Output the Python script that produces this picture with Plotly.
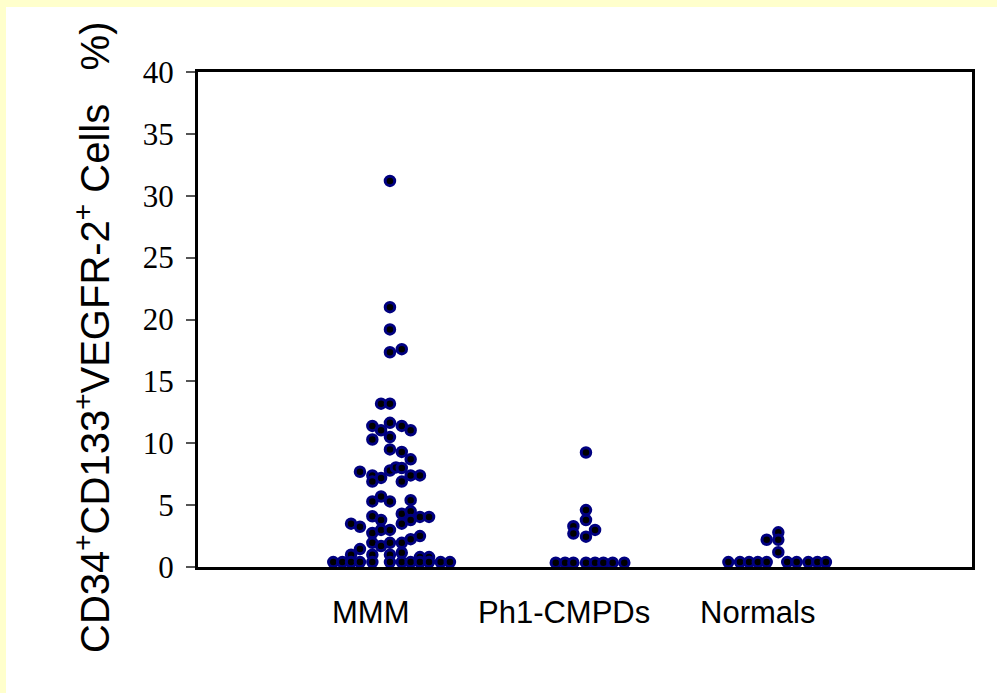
import plotly.graph_objects as go

# ---- data ----
categories = ["MMM", "Ph1-CMPDs", "Normals"]
category_pos = [1, 2, 3]

mmm_values = [31.2, 21.0, 19.2, 17.35, 17.6, 13.2, 13.2, 11.4, 11.65, 11.05, 11.4, 11.05,
              10.3, 10.5, 9.5, 9.3, 8.7, 7.7, 7.4, 7.2, 6.9, 7.8, 8.05, 8.0, 7.4, 7.4, 6.9,
              5.3, 5.7, 5.3, 5.4, 4.3, 4.5, 4.05, 4.05, 3.5, 3.8, 4.1, 3.8, 3.5, 3.25, 2.75,
              3.0, 3.0, 1.95, 1.7, 1.95, 1.95, 2.25, 2.5, 1.45, 1.0, 1.0, 1.0, 1.15, 0.8, 0.8,
              0.4, 0.4, 0.4, 0.4, 0.4, 0.4, 0.4, 0.4, 0.4, 0.4, 0.4, 0.4]
mmm_jitter = [-0.008, -0.008, -0.008, -0.008, 0.053, -0.054, -0.008, -0.099, -0.008, -0.054, 0.053, 0.099,
              -0.099, -0.008, -0.008, 0.053, 0.099, -0.163, -0.099, -0.054, -0.099, -0.008, 0.023, 0.053, 0.099, 0.147, 0.053,
              -0.099, -0.054, -0.008, 0.099, 0.053, 0.099, 0.147, 0.194, 0.053, 0.099, -0.099, -0.054, -0.209, -0.163, -0.099,
              -0.054, -0.008, -0.099, -0.054, -0.008, 0.053, 0.099, 0.147, -0.163, -0.209, -0.099, -0.008, 0.053, 0.147, 0.194,
              -0.301, -0.254, -0.209, -0.163, -0.099, -0.008, 0.053, 0.099, 0.147, 0.194, 0.254, 0.302]

ph1_values = [9.25, 4.6, 3.8, 3.3, 2.7, 3.0, 2.45, 0.35, 0.35, 0.35, 0.35, 0.35, 0.35, 0.35, 0.35]
ph1_jitter = [0.005, 0.005, 0.005, -0.060, -0.060, 0.052, 0.005,
              -0.151, -0.103, -0.060, 0.005, 0.052, 0.095, 0.143, 0.203]

norm_values = [2.8, 2.2, 2.2, 1.2, 0.4, 0.4, 0.4, 0.4, 0.4, 0.4, 0.4, 0.4, 0.4, 0.4]
norm_jitter = [-0.001, -0.001, -0.061, -0.001,
               -0.259, -0.199, -0.152, -0.107, -0.061, 0.045, 0.094, 0.154, 0.201, 0.245]

y_ticks = [0, 5, 10, 15, 20, 25, 30, 35, 40]

groups = [(mmm_values, mmm_jitter), (ph1_values, ph1_jitter), (norm_values, norm_jitter)]

fig = go.Figure()
for (vals, jit), pos, name in zip(groups, category_pos, categories):
    fig.add_trace(go.Scatter(
        x=[pos + j for j in jit], y=vals, mode="markers", name=name,
        marker=dict(size=9.5, color="black", line=dict(color="#000080", width=3)),
        showlegend=False, hoverinfo="y",
    ))

W, H = 997, 693
L, R, T, B = 198, 25, 72, 126
pw, ph = W - L - R, H - T - B

def px_x(px):
    return (px - L) / pw

def px_y(py):
    return (H - B - py) / ph

annotations = []
for pos, name in zip(category_pos, categories):
    annotations.append(dict(
        x=pos, xref="x", y=px_y(612), yref="paper", text=name, showarrow=False,
        xshift=-21, xanchor="center", yanchor="middle",
        font=dict(family="Liberation Sans, Arial", size=31, color="black"),
    ))

annotations.append(dict(
    x=px_x(92), xref="paper", y=px_y(338), yref="paper",
    text="CD34<sup>+</sup>CD133<sup>+</sup>VEGFR-2<sup>+</sup> Cells   %)",
    textangle=-90, showarrow=False, xanchor="center", yanchor="middle",
    font=dict(family="Liberation Sans, Arial", size=40, color="black"),
))

fig.update_layout(
    width=W, height=H,
    margin=dict(l=L, r=R, t=T, b=B, pad=0),
    paper_bgcolor="#FFFFCC",
    plot_bgcolor="white",
    shapes=[dict(type="rect", xref="paper", yref="paper",
                 x0=px_x(6), x1=px_x(W + 5), y0=px_y(H + 5), y1=px_y(7),
                 fillcolor="white", line=dict(width=0), layer="below")],
    annotations=annotations,
    xaxis=dict(range=[0, 4], showticklabels=False, ticks="", showgrid=False, zeroline=False,
               showline=True, linecolor="black", linewidth=3, mirror=True, fixedrange=True),
    yaxis=dict(range=[0, 40], tickvals=y_ticks, ticks="outside", ticklen=9, tickwidth=1.5,
               tickcolor="#555555", showgrid=False, zeroline=False,
               showline=True, linecolor="black", linewidth=3, mirror=True,
               tickfont=dict(family="Liberation Serif, Times New Roman", size=31, color="black"),
               ticklabelstandoff=6),
)

fig.write_html("out.html")
